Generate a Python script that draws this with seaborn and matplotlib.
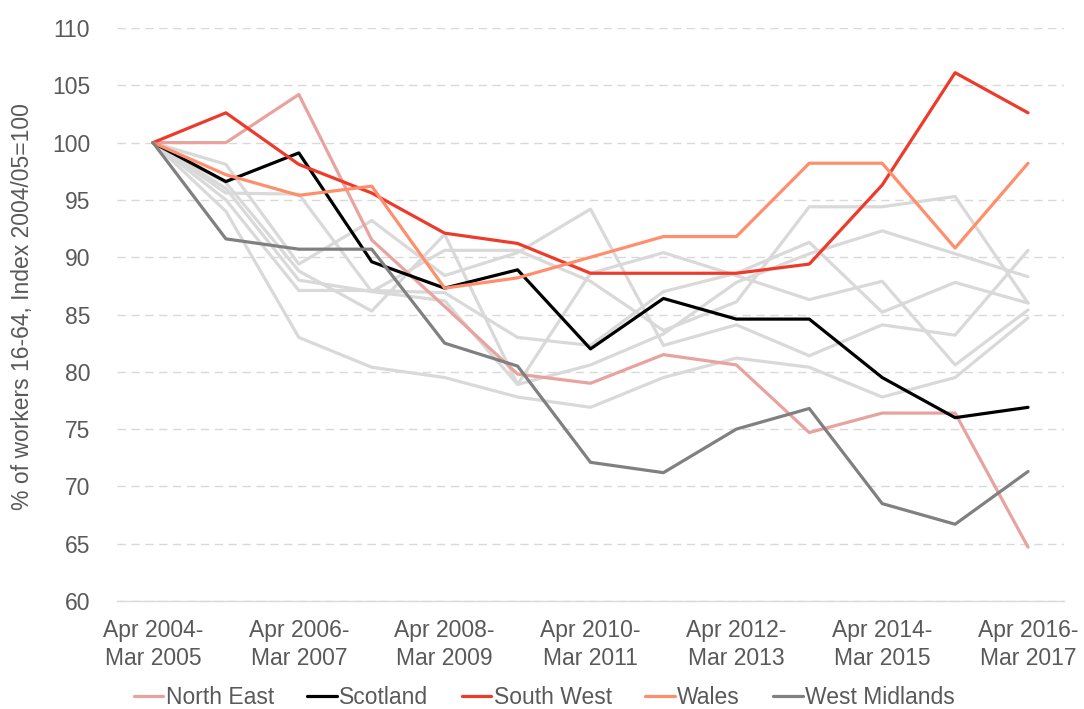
import matplotlib
matplotlib.use("Agg")
import matplotlib.pyplot as plt
import seaborn as sns
import pandas as pd

periods = ["Apr 2004-\nMar 2005", "Apr 2005-\nMar 2006", "Apr 2006-\nMar 2007",
           "Apr 2007-\nMar 2008", "Apr 2008-\nMar 2009", "Apr 2009-\nMar 2010",
           "Apr 2010-\nMar 2011", "Apr 2011-\nMar 2012", "Apr 2012-\nMar 2013",
           "Apr 2013-\nMar 2014", "Apr 2014-\nMar 2015", "Apr 2015-\nMar 2016",
           "Apr 2016-\nMar 2017"]

north_east = [100, 100, 104.2, 91.5, 85.7, 79.8, 79.0, 81.5, 80.6, 74.7, 76.4, 76.4, 64.7]
scotland = [100, 96.6, 99.1, 89.6, 87.3, 88.9, 82.0, 86.4, 84.6, 84.6, 79.5, 76.0, 76.9]
south_west = [100, 102.6, 98.1, 95.6, 92.1, 91.2, 88.6, 88.6, 88.6, 89.4, 96.3, 106.1, 102.6]
wales = [100, 97.2, 95.4, 96.2, 87.3, 88.2, 90.0, 91.8, 91.8, 98.2, 98.2, 90.8, 98.2]
west_midlands = [100, 91.6, 90.7, 90.7, 82.5, 80.5, 72.1, 71.2, 75.0, 76.8, 68.5, 66.7, 71.3]

# other regions (grey background lines)
north_west = [100, 95.6, 95.5, 87.0, 90.6, 90.6, 87.9, 83.6, 86.1, 94.4, 94.4, 95.3, 86.0]
yorkshire = [100, 95.0, 87.1, 87.1, 86.9, 83.0, 82.3, 87.0, 88.6, 91.3, 85.2, 87.8, 86.0]
east_midlands = [100, 96.5, 88.8, 85.3, 92.0, 78.9, 80.6, 83.3, 87.8, 90.3, 92.3, 90.3, 88.3]
east = [100, 96.0, 88.0, 87.0, 86.2, 78.9, 88.6, 90.4, 88.4, 86.3, 87.9, 80.6, 85.4]
london = [100, 98.1, 89.4, 93.2, 88.4, 90.4, 94.2, 82.3, 84.1, 81.4, 84.1, 83.2, 90.6]
south_east = [100, 94.0, 83.0, 80.4, 79.5, 77.8, 76.9, 79.5, 81.2, 80.4, 77.8, 79.5, 84.7]

highlight = {"North East": north_east, "Scotland": scotland, "South West": south_west,
             "Wales": wales, "West Midlands": west_midlands}
others = {"North West": north_west, "Yorkshire and The Humber": yorkshire,
          "East Midlands": east_midlands, "East": east, "London": london,
          "South East": south_east}

colors = {"North East": "#E8A39E", "Scotland": "#000000", "South West": "#EE3A2B",
          "Wales": "#FF8F6C", "West Midlands": "#808080"}

def long_df(d):
    rows = []
    for name, vals in d.items():
        for i, v in enumerate(vals):
            rows.append({"region": name, "x": i, "value": v})
    return pd.DataFrame(rows)

df_hi = long_df(highlight)
df_ot = long_df(others)

sns.set_style("white")
plt.rcParams["font.family"] = ["Liberation Sans", "DejaVu Sans"]

FS = 16.5
fig = plt.figure(figsize=(10.84, 7.09), dpi=100)
ax = fig.add_axes([0.1075, 0.1523, 0.8745, 0.8082])

sns.lineplot(data=df_ot, x="x", y="value", units="region", estimator=None,
             color="#D9D9D9", linewidth=2.3, ax=ax, legend=False)
sns.lineplot(data=df_hi, x="x", y="value", hue="region", palette=colors,
             hue_order=list(highlight.keys()), linewidth=2.3, ax=ax)

ax.set_xlim(-0.5, 12.5)
ax.set_ylim(60, 110)
ax.set_yticks(range(60, 111, 5))
ax.set_xticks(range(0, 13, 2))
ax.set_xticklabels([periods[i] for i in range(0, 13, 2)], linespacing=1.25)
ax.tick_params(axis="both", length=0, labelsize=FS, labelcolor="#595959")
ax.tick_params(axis="y", pad=19)
ax.tick_params(axis="x", pad=13)
ax.set_xlabel("")
ax.set_ylabel("")

ax.yaxis.grid(True, color="#D9D9D9", linestyle=(0, (6, 4)), linewidth=1)
ax.xaxis.grid(False)
for s in ["top", "right", "left"]:
    ax.spines[s].set_visible(False)
ax.spines["bottom"].set_color("#D9D9D9")
ax.spines["bottom"].set_linewidth(1)
ax.set_axisbelow(True)

fig.text(0.021, 0.568, "% of workers 16-64, Index 2004/05=100", rotation=90,
         ha="center", va="center", fontsize=FS, color="#595959")

handles, labels = ax.get_legend_handles_labels()
ax.legend_.remove()
fig.legend(handles, labels, loc="center", bbox_to_anchor=(0.502, 0.016), ncol=5,
           frameon=False, fontsize=FS, handlelength=1.3, handletextpad=0.1,
           columnspacing=1.45, labelcolor="#595959")

fig.savefig("out.png", dpi=100)
